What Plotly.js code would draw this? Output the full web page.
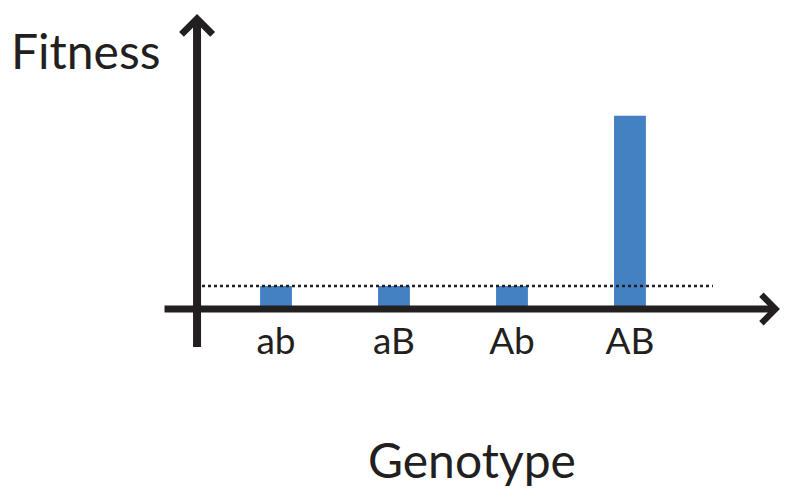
<!DOCTYPE html>
<html>
<head>
<meta charset="utf-8">
<script src="https://cdn.plot.ly/plotly-3.0.1.min.js"></script>
<style>html,body{margin:0;padding:0;background:#fff;}#chart{width:800px;height:497px;}</style>
</head>
<body>
<div id="chart"></div>
<script>
// Data
var genotypes = ['ab', 'aB', 'Ab', 'AB'];
var fitness = [1, 1, 1, 8.4];
var baselineFitness = 1;
var xTitle = 'Genotype';
var yTitle = 'Fitness';

var ink = '#231f20';
var font = 'Lato, "Open Sans", sans-serif';

var trace = {
  type: 'bar',
  x: genotypes,
  y: fitness,
  width: 0.27,
  marker: {color: '#4481c3', line: {width: 0}},
  hoverinfo: 'skip'
};

var layout = {
  width: 800, height: 497,
  margin: {l: 0, r: 0, t: 0, b: 0, pad: 0},
  paper_bgcolor: '#fff', plot_bgcolor: '#fff',
  showlegend: false,
  xaxis: {
    type: 'category', categoryorder: 'array', categoryarray: genotypes,
    range: [-2.339, 4.441], domain: [0, 1],
    anchor: 'free', position: 0.378,
    showline: false, showgrid: false, zeroline: false, ticks: '',
    tickfont: {family: font, size: 37, color: ink},
    ticklabelstandoff: 7,
    fixedrange: true
  },
  yaxis: {
    range: [-8.174, 13.435],
    visible: false, fixedrange: true
  },
  shapes: [{
    type: 'line', xref: 'x', yref: 'y',
    x0: -0.627, x1: 3.703, y0: baselineFitness, y1: baselineFitness,
    line: {color: ink, width: 2.5, dash: 'dot'}
  }],
  annotations: [
    {xref: 'x', yref: 'y', axref: 'x', ayref: 'y',
     x: -0.669, y: 12.83, ax: -0.669, ay: -1.696,
     text: ' ', font: {size: 1}, borderpad: 0,
     showarrow: true, arrowhead: 4, arrowwidth: 8, arrowsize: 0.75,
     arrowcolor: ink, standoff: 0},
    {xref: 'x', yref: 'y', axref: 'x', ayref: 'y',
     x: 4.271, y: 0, ax: -0.949, ay: 0,
     text: ' ', font: {size: 1}, borderpad: 0,
     showarrow: true, arrowhead: 4, arrowwidth: 7, arrowsize: 0.78,
     arrowcolor: ink, standoff: 0},
    {xref: 'paper', yref: 'paper', x: 85/800, y: (497-50)/497,
     xanchor: 'center', yanchor: 'middle', showarrow: false,
     text: yTitle, font: {family: font, size: 48, color: ink}},
    {xref: 'paper', yref: 'paper', x: 472/800, y: (497-459)/497,
     xanchor: 'center', yanchor: 'middle', showarrow: false,
     text: xTitle, font: {family: font, size: 48, color: ink}}
  ]
};

Plotly.newPlot('chart', [trace], layout, {displayModeBar: false, staticPlot: true});
</script>
</body>
</html>
